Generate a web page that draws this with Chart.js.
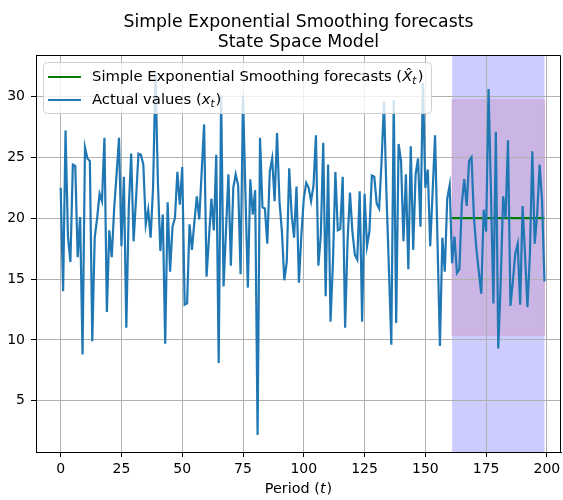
<!DOCTYPE html>
<html>
<head>
<meta charset="utf-8">
<title>Simple Exponential Smoothing forecasts</title>
<script src="https://cdn.jsdelivr.net/npm/chart.js@4.4.1/dist/chart.umd.min.js"></script>
<style>
    html, body { margin: 0; padding: 0; background: #ffffff; }
    canvas { display: block; }
</style>
</head>
<body>
<canvas id="sesChart" width="563" height="500"></canvas>
<script>
// Valeurs
const periods = Array.from({ length: 200 }, (_, i) => i);
const actualValues = [
    22.5, 14.0, 27.2, 18.5, 16.4, 24.4, 24.3, 16.8, 20.1, 8.8,
    25.8, 24.9, 24.7, 9.9, 18.4, 20.0, 22.0, 21.4, 26.6, 12.3,
    19.0, 16.8, 20.8, 23.6, 26.6, 17.7, 23.4, 11.0, 20.8, 25.3,
    18.1, 21.6, 25.3, 25.2, 24.4, 19.5, 20.7, 18.4, 22.5, 31.9,
    22.9, 17.3, 20.3, 9.7, 21.3, 15.6, 19.3, 20.0, 23.8, 21.1,
    24.2, 12.9, 13.0, 19.5, 17.4, 19.7, 21.8, 19.9, 23.8, 27.7,
    15.2, 18.4, 21.6, 19.0, 25.2, 8.1, 30.1, 14.4, 19.0, 23.6,
    16.1, 22.5, 23.6, 22.7, 15.4, 30.1, 22.0, 14.3, 23.2, 20.3,
    22.3, 2.2, 26.6, 20.9, 20.8, 17.9, 23.8, 24.9, 21.4, 27.0,
    21.4, 18.9, 14.9, 16.4, 24.1, 20.3, 18.4, 22.6, 14.7, 18.6,
    21.6, 22.9, 22.5, 21.4, 22.7, 26.8, 16.1, 18.6, 26.2, 13.6,
    24.4, 11.5, 16.4, 23.8, 19.0, 19.1, 23.4, 11.0, 18.1, 22.1,
    18.9, 17.0, 16.6, 22.2, 11.5, 22.0, 17.7, 18.9, 23.5, 23.4,
    21.2, 20.8, 24.7, 29.6, 22.0, 16.0, 9.6, 29.7, 11.4, 26.1,
    24.7, 18.1, 23.6, 15.8, 25.9, 17.4, 23.6, 24.9, 19.3, 31.1,
    22.5, 24.0, 17.7, 22.2, 26.8, 18.1, 9.5, 18.4, 15.6, 21.6,
    22.7, 16.3, 18.5, 15.5, 15.8, 21.2, 23.2, 21.0, 24.7, 25.0,
    20.0, 17.5, 15.6, 13.8, 20.7, 18.9, 30.6, 22.0, 13.0, 27.1,
    9.3, 14.8, 21.8, 20.0, 26.4, 12.8, 14.8, 17.1, 17.9, 12.9,
    21.0, 17.0, 12.7, 17.0, 25.5, 17.9, 20.3, 24.4, 21.4, 14.8
];
const forecastPeriods = periods.slice(161);
const forecastValues = [
    20.0, 20.0, 20.0, 20.0, 20.0, 20.0, 20.0, 20.0, 20.0, 20.0,
    20.0, 20.0, 20.0, 20.0, 20.0, 20.0, 20.0, 20.0, 20.0, 20.0,
    20.0, 20.0, 20.0, 20.0, 20.0, 20.0, 20.0, 20.0, 20.0, 20.0,
    20.0, 20.0, 20.0, 20.0, 20.0, 20.0, 20.0, 20.0, 20.0
];
const forecastSpan = [161, 199];
const intervalBounds = [10.4, 29.7];
const xTicks = [0, 25, 50, 75, 100, 125, 150, 175, 200];
const xTickLabels = ['0', '25', '50', '75', '100', '125', '150', '175', '200'];
const yTicks = [5, 10, 15, 20, 25, 30];
const yTickLabels = ['5', '10', '15', '20', '25', '30'];

const FONT = "'DejaVu Sans', sans-serif";

// Texte avec morceaux en italique / indice (façon mathtext)
function drawRich(ctx, parts, x, y, size, align) {
    const fontFor = p => `${p.italic ? 'oblique ' : ''}${p.sub ? size * 0.7 : size}px ${FONT}`;
    const widthOf = p => { ctx.font = fontFor(p); return ctx.measureText(p.text).width + (p.gap || 0); };
    const total = parts.reduce((s, p) => s + widthOf(p), 0);
    let cx = align === 'center' ? x - total / 2 : x;
    ctx.textAlign = 'left';
    ctx.textBaseline = 'middle';
    parts.forEach(p => {
        const w = widthOf(p);
        ctx.font = fontFor(p);
        ctx.fillText(p.text, cx, p.sub ? y + size * 0.28 : y);
        cx += w;
    });
}

const decorPlugin = {
    id: 'decor',
    beforeDraw(chart) {
        const { ctx, chartArea, scales } = chart;
        const x0 = scales.x.getPixelForValue(forecastSpan[0]);
        const x1 = scales.x.getPixelForValue(forecastSpan[1]);
        ctx.save();
        ctx.fillStyle = 'rgba(0, 0, 255, 0.2)';
        ctx.fillRect(x0, chartArea.top, x1 - x0, chartArea.bottom - chartArea.top);
        const yTop = scales.y.getPixelForValue(intervalBounds[1]);
        const yBot = scales.y.getPixelForValue(intervalBounds[0]);
        ctx.fillStyle = 'rgba(200, 110, 150, 0.25)';
        ctx.fillRect(x0, yTop, x1 - x0, yBot - yTop);
        ctx.strokeStyle = 'rgba(210, 140, 190, 0.5)';
        ctx.lineWidth = 1;
        ctx.strokeRect(x0, yTop, x1 - x0, yBot - yTop);
        ctx.restore();
    },
    afterDatasetsDraw(chart) {
        const { ctx } = chart;
        // Légende
        const bx = 43.5, by = 62.5, bw = 388, bh = 51, r = 4;
        ctx.save();
        ctx.beginPath();
        ctx.moveTo(bx + r, by);
        ctx.arcTo(bx + bw, by, bx + bw, by + bh, r);
        ctx.arcTo(bx + bw, by + bh, bx, by + bh, r);
        ctx.arcTo(bx, by + bh, bx, by, r);
        ctx.arcTo(bx, by, bx + bw, by, r);
        ctx.closePath();
        ctx.fillStyle = 'rgba(255, 255, 255, 0.8)';
        ctx.fill();
        ctx.strokeStyle = '#d0d0d0';
        ctx.lineWidth = 1;
        ctx.stroke();

        ctx.lineWidth = 2.2;
        ctx.strokeStyle = '#008000';
        ctx.beginPath(); ctx.moveTo(48, 77); ctx.lineTo(81, 77); ctx.stroke();
        ctx.strokeStyle = '#1f77b4';
        ctx.beginPath(); ctx.moveTo(48, 100); ctx.lineTo(81, 100); ctx.stroke();

        ctx.fillStyle = '#000';
        drawRich(ctx, [
            { text: 'Simple Exponential Smoothing forecasts (' },
            { text: 'X\u0302', italic: true },
            { text: 't', italic: true, sub: true, gap: 1.5 },
            { text: ')' }
        ], 92, 77, 14.8, 'left');
        drawRich(ctx, [
            { text: 'Actual values (' },
            { text: 'x', italic: true },
            { text: 't', italic: true, sub: true, gap: 1 },
            { text: ')' }
        ], 92, 100, 14.8, 'left');
        ctx.restore();
    },
    afterDraw(chart) {
        const { ctx, chartArea } = chart;
        const cx = (chartArea.left + chartArea.right) / 2;
        ctx.save();
        // Cadre haut et droit
        ctx.strokeStyle = '#000';
        ctx.lineWidth = 1;
        ctx.beginPath();
        ctx.moveTo(chartArea.left, chartArea.top + 0.5);
        ctx.lineTo(chartArea.right - 0.5, chartArea.top + 0.5);
        ctx.lineTo(chartArea.right - 0.5, chartArea.bottom);
        ctx.stroke();
        // Titre
        ctx.fillStyle = '#000';
        ctx.font = `17.3px ${FONT}`;
        ctx.textAlign = 'center';
        ctx.textBaseline = 'alphabetic';
        ctx.fillText('Simple Exponential Smoothing forecasts', cx, 27);
        ctx.fillText('State Space Model', cx, 47);
        // Titre de l'axe x
        drawRich(ctx, [
            { text: 'Period (' },
            { text: 't', italic: true, gap: 1 },
            { text: ')' }
        ], cx, 489.5, 14.4, 'center');
        ctx.restore();
    }
};

const ctx = document.getElementById('sesChart').getContext('2d');
new Chart(ctx, {
    type: 'line',
    data: {
        datasets: [{
            label: 'Actual values',
            data: actualValues.map((v, i) => ({ x: periods[i], y: v })),
            borderColor: '#1f77b4',
            borderWidth: 2.2,
            pointRadius: 0,
            tension: 0,
            fill: false
        }, {
            label: 'Simple Exponential Smoothing forecasts',
            data: forecastValues.map((v, i) => ({ x: forecastPeriods[i], y: v })),
            borderColor: '#008000',
            borderWidth: 2.2,
            pointRadius: 0,
            tension: 0,
            fill: false
        }]
    },
    options: {
        responsive: false,
        animation: false,
        layout: { padding: { top: 55, right: 2, left: 0, bottom: 0 } },
        plugins: {
            legend: { display: false },
            title: { display: false },
            tooltip: { enabled: false }
        },
        scales: {
            x: {
                type: 'linear',
                min: -10.15,
                max: 205.8,
                afterBuildTicks: scale => { scale.ticks = xTicks.map(v => ({ value: v })); },
                afterFit: scale => {
                    scale.height = 48;
                    scale.paddingLeft = 0;
                    scale.paddingRight = 0;
                },
                grid: { color: '#b0b0b0', lineWidth: 1, tickLength: 5, tickColor: '#000' },
                border: { color: '#000', width: 1 },
                ticks: {
                    color: '#000',
                    padding: 4,
                    maxRotation: 0,
                    font: { family: FONT, size: 14 },
                    callback: value => xTickLabels[xTicks.indexOf(value)]
                }
            },
            y: {
                type: 'linear',
                min: 0.8,
                max: 33.4,
                afterBuildTicks: scale => { scale.ticks = yTicks.map(v => ({ value: v })); },
                afterFit: scale => {
                    scale.width = 36;
                    scale.paddingTop = 0;
                    scale.paddingBottom = 0;
                },
                grid: { color: '#b0b0b0', lineWidth: 1, tickLength: 5, tickColor: '#000' },
                border: { color: '#000', width: 1 },
                ticks: {
                    color: '#000',
                    padding: 6,
                    font: { family: FONT, size: 14 },
                    callback: value => yTickLabels[yTicks.indexOf(value)]
                }
            }
        }
    },
    plugins: [decorPlugin]
});
</script>
</body>
</html>
